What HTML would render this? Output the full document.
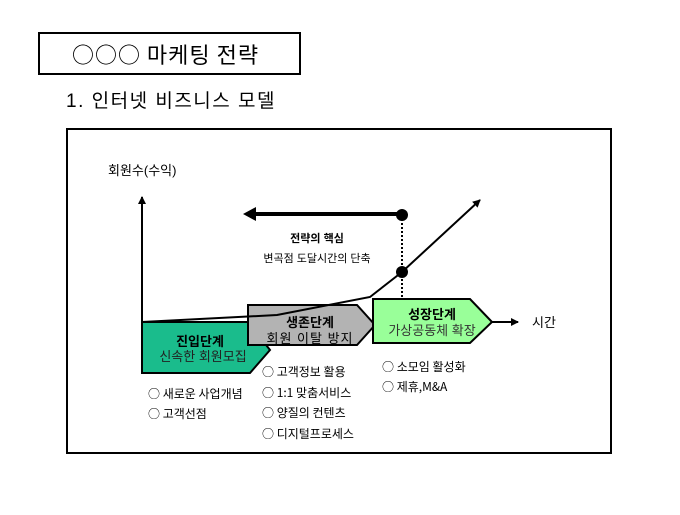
<!DOCTYPE html>
<html><head><meta charset="utf-8"><style>
body{margin:0;background:#fff;width:680px;height:510px;overflow:hidden}
svg text{font-family:"Liberation Sans","Noto Sans CJK KR","NanumGothic",sans-serif}
.c{font-family:"Noto Sans CJK KR","NanumGothic",sans-serif}
</style></head><body>
<svg width="680" height="510" viewBox="0 0 680 510" xmlns="http://www.w3.org/2000/svg">
<defs><marker id="a" markerWidth="8" markerHeight="8" refX="7" refY="4" orient="auto" markerUnits="userSpaceOnUse"><path d="M0,0 L8,4 L0,8 z" fill="#000"/></marker></defs>
<rect x="39" y="33" width="261" height="41" fill="#fff" stroke="#000" stroke-width="2"/>
<text x="72" y="63" font-size="22" class="c" letter-spacing="1">○○○ 마케팅 전략</text>
<text x="66" y="107" font-size="19" letter-spacing="1.5">1. 인터넷 비즈니스 모델</text>
<rect x="67" y="129" width="544" height="324" fill="#fff" stroke="#000" stroke-width="2"/>
<text x="108" y="175" font-size="13">회원수(수익)</text>
<line x1="142" y1="373" x2="142" y2="197" stroke="#000" stroke-width="2" marker-end="url(#a)"/>
<line x1="490" y1="322" x2="518" y2="322" stroke="#000" stroke-width="2" marker-end="url(#a)"/>
<text x="532" y="327" font-size="13">시간</text>
<polygon points="142,322 248,322 270,350 250,373 142,373" fill="#1abc8c" stroke="#000" stroke-width="2"/>
<polygon points="248,305 357,305 375,325 357,345 248,345" fill="#b3b3b3" stroke="#000" stroke-width="2"/>
<polygon points="373,299 470,299 492,322 470,343 373,343" fill="#99ff99" stroke="#000" stroke-width="2"/>
<polyline points="142,322 277,315 370,297 402,272 480,200" fill="none" stroke="#000" stroke-width="2" marker-end="url(#a)"/>
<line x1="402" y1="215" x2="402" y2="299" stroke="#000" stroke-width="2" stroke-dasharray="2,2"/>
<line x1="402" y1="214" x2="252" y2="214" stroke="#000" stroke-width="4"/>
<path d="M243,214 L256,207 L256,221 z" fill="#000"/>
<circle cx="402" cy="215" r="6" fill="#000"/>
<circle cx="402" cy="272" r="6" fill="#000"/>
<text x="317" y="242" font-size="11" font-weight="bold" text-anchor="middle">전략의 핵심</text>
<text x="317" y="262" font-size="11" text-anchor="middle">변곡점 도달시간의 단축</text>
<text x="200" y="346" font-size="13" font-weight="bold" text-anchor="middle">진입단계</text>
<text x="203" y="361" font-size="13" text-anchor="middle" fill="#222">신속한 회원모집</text>
<text x="310" y="327" font-size="13" font-weight="bold" text-anchor="middle">생존단계</text>
<text x="310" y="343" font-size="13" text-anchor="middle" letter-spacing="1">회원 이탈 방지</text>
<text x="432" y="319" font-size="13" font-weight="bold" text-anchor="middle">성장단계</text>
<text x="432" y="335" font-size="13" text-anchor="middle" fill="#333">가상공동체 확장</text>
<g font-size="12">
<text x="148" y="398" class="c">○ 새로운 사업개념</text>
<text x="148" y="418" class="c">○ 고객선점</text>
<text x="262" y="376" class="c">○ 고객정보 활용</text>
<text x="262" y="397" class="c">○ 1:1 맞춤서비스</text>
<text x="262" y="417" class="c">○ 양질의 컨텐츠</text>
<text x="262" y="438" class="c">○ 디지털프로세스</text>
<text x="382" y="371" class="c">○ 소모임 활성화</text>
<text x="382" y="391" class="c">○ 제휴,M&amp;A</text>
</g>
</svg>
</body></html>
